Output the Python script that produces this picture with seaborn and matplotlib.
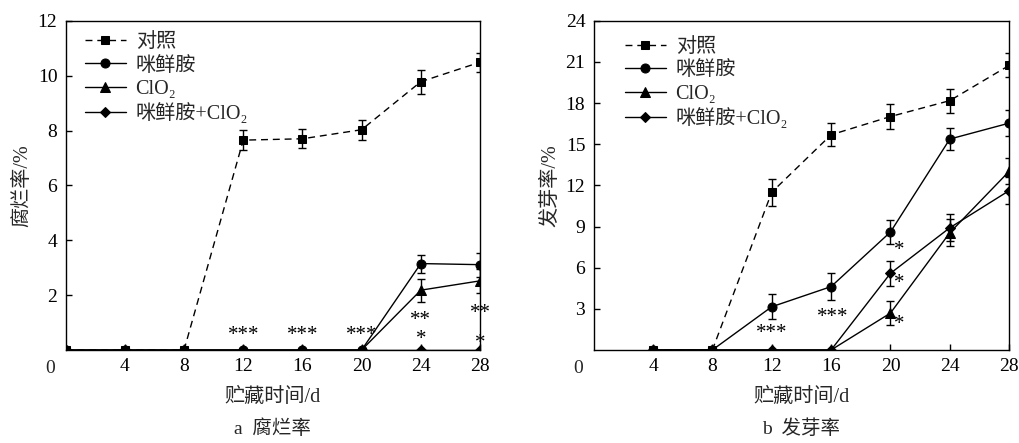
import numpy as np
import pandas as pd
import matplotlib
matplotlib.use("Agg")
import matplotlib.pyplot as plt
import seaborn as sns

sns.set_theme(style="ticks")
plt.rcParams['font.family'] = ['Liberation Serif', 'Noto Sans CJK SC', 'DejaVu Serif']

# ---------------- data ----------------
series_names = ['对照', '咪鲜胺', 'ClO₂', '咪鲜胺+ClO₂']

# panel a: 腐烂率
days_a = [0, 4, 8, 12, 16, 20, 24, 28]
rot_ctrl = [0, 0, 0, 7.65, 7.70, 8.03, 9.78, 10.49]
rot_ctrl_err = [0, 0, 0, 0.36, 0.35, 0.36, 0.43, 0.35]
rot_pro = [0, 0, 0, 0, 0, 0, 3.15, 3.11]
rot_pro_err = [0, 0, 0, 0, 0, 0, 0.33, 0.44]
rot_clo = [0, 0, 0, 0, 0, 0, 2.18, 2.52]
rot_clo_err = [0, 0, 0, 0, 0, 0, 0.42, 0.45]
rot_mix = [0, 0, 0, 0, 0, 0, 0, 0]
rot_mix_err = [0, 0, 0, 0, 0, 0, 0, 0]

# panel b: 发芽率
days_b = [4, 8, 12, 16, 20, 24, 28]
spr_ctrl = [0, 0, 11.5, 15.69, 17.02, 18.18, 20.75]
spr_ctrl_err = [0, 0, 0.97, 0.85, 0.92, 0.88, 0.87]
spr_pro = [0, 0, 3.15, 4.62, 8.6, 15.38, 16.54]
spr_pro_err = [0, 0, 0.92, 0.97, 0.88, 0.82, 0.97]
spr_clo = [0, 0, 0, 0, 2.69, 8.55, 13.03]
spr_clo_err = [0, 0, 0, 0, 0.85, 1.0, 0.95]
spr_mix = [0, 0, 0, 0, 5.59, 8.91, 11.62]
spr_mix_err = [0, 0, 0, 0, 0.9, 1.0, 1.0]

# significance marks (x, y, text)
stars_a = [(12, 0.64, '***'), (16, 0.64, '***'), (20, 0.64, '***'),
           (24, 1.2, '**'), (24, 0.5, '*'), (28, 1.45, '**'), (28, 0.35, '*')]
stars_b = [(12, 1.4, '***'), (16.1, 2.6, '***'),
           (20.6, 7.5, '*'), (20.6, 5.1, '*'), (20.6, 2.1, '*')]

markers = ['s', 'o', '^', 'D']
msizes = [6, 6.5, 6.5, 5.5]
lstyles = [(0, (5, 3.5)), '-', '-', '-']

fig = plt.figure(figsize=(10.2, 4.43), dpi=100)
axA = fig.add_axes([0.0644, 0.21, 0.4062, 0.743])
axB = fig.add_axes([0.582, 0.21, 0.4074, 0.743])

FS_TICK = 14
FS_LAB = 14.5


def draw(ax, days, ys, errs, ymax, ystep, ylabel, caption, stars, legend):
    for i, (y, e) in enumerate(zip(ys, errs)):
        df = pd.DataFrame({'day': days, 'val': y})
        sns.lineplot(data=df, x='day', y='val', ax=ax, color='black',
                     marker=markers[i], markersize=msizes[i], linestyle=lstyles[i],
                     linewidth=1.0, markeredgecolor='black', markerfacecolor='black',
                     label=series_names[i], legend=False, zorder=3)
        d = np.array(days)
        yy = np.array(y)
        ee = np.array(e)
        m = ee > 0
        ax.errorbar(d[m], yy[m], yerr=ee[m], fmt='none', ecolor='black',
                    elinewidth=1.0, capsize=3.2, capthick=1.0, zorder=2)
    for (x, y, t) in stars:
        ax.annotate(t, (x, y), xytext=(0, -5.5), textcoords='offset points',
                    ha='center', va='baseline', fontsize=15,
                    family='Liberation Serif', color='black')
    ax.set_xlim(0, 28)
    ax.set_ylim(0, ymax)
    ax.set_xticks([4, 8, 12, 16, 20, 24, 28])
    ax.set_xticklabels([str(v) for v in [4, 8, 12, 16, 20, 24, 28]])
    yt = np.arange(ystep, ymax + 0.01, ystep)
    ax.set_yticks(yt)
    ax.set_yticklabels([str(int(v)) for v in yt])
    ax.tick_params(direction='in', length=4, width=1, labelsize=FS_TICK,
                   colors='black', pad=6)
    for s in ax.spines.values():
        s.set_visible(True)
        s.set_linewidth(1.0)
        s.set_color('black')
    ax.text(-0.037, -0.055, '0', transform=ax.transAxes, ha='center', va='center',
            fontsize=FS_TICK)
    ax.set_xlabel('贮藏时间/d', fontsize=FS_LAB, labelpad=9)
    ax.set_ylabel(ylabel, fontsize=FS_LAB, labelpad=4)
    ax.text(0.5, -0.238, caption, transform=ax.transAxes, ha='center', va='center',
            fontsize=14)
    ax.set_facecolor('white')
    if legend is not None:
        ax.legend(loc='upper left', bbox_to_anchor=legend, frameon=False,
                  fontsize=FS_LAB, handlelength=2.0, handletextpad=0.5,
                  labelspacing=0.22, borderaxespad=0.2)


draw(axA, days_a, [rot_ctrl, rot_pro, rot_clo, rot_mix],
     [rot_ctrl_err, rot_pro_err, rot_clo_err, rot_mix_err],
     12, 2, '腐烂率/%', 'a  腐烂率', stars_a, (0.018, 1.0))
draw(axB, days_b, [spr_ctrl, spr_pro, spr_clo, spr_mix],
     [spr_ctrl_err, spr_pro_err, spr_clo_err, spr_mix_err],
     24, 3, '发芽率/%', 'b  发芽率', stars_b, (0.047, 0.985))

fig.savefig('out.png', dpi=100, facecolor='white')
